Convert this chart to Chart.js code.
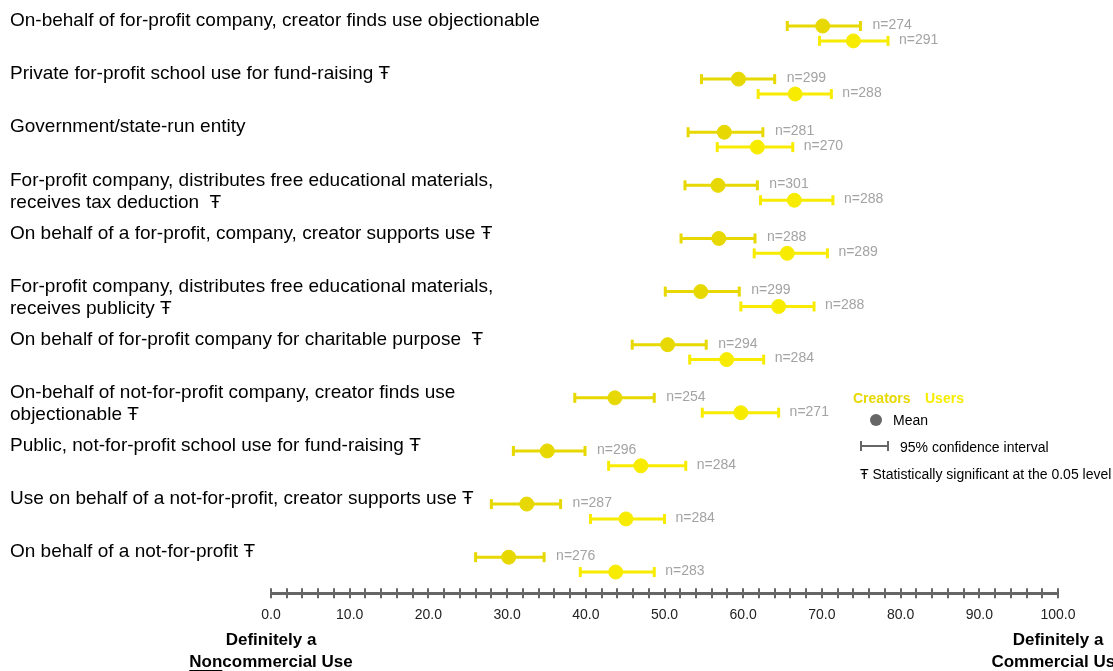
<!DOCTYPE html>
<html>
<head>
  <title>Commercial vs Noncommercial Use</title>
  <script src="https://cdn.jsdelivr.net/npm/chart.js"></script>
  <style>
    html, body { margin: 0; padding: 0; background: #fff; }
  </style>
</head>
<body>
  <canvas id="useChart" width="1113" height="671"></canvas>

  <script>
    // Scenarios, top to bottom (arrays = two lines)
    const categories = [
      'On-behalf of for-profit company, creator finds use objectionable',
      'Private for-profit school use for fund-raising \u0166',
      'Government/state-run entity',
      ['For-profit company, distributes free educational materials,', 'receives tax deduction  \u0166'],
      'On behalf of a for-profit, company, creator supports use \u0166',
      ['For-profit company, distributes free educational materials,', 'receives publicity \u0166'],
      'On behalf of for-profit company for charitable purpose  \u0166',
      ['On-behalf of not-for-profit company, creator finds use', 'objectionable \u0166'],
      'Public, not-for-profit school use for fund-raising \u0166',
      'Use on behalf of a not-for-profit, creator supports use \u0166',
      'On behalf of a not-for-profit \u0166'
    ];

    const creatorsMean = [70.1, 59.4, 57.6, 56.8, 56.9, 54.6, 50.4, 43.7, 35.1, 32.5, 30.2];
    const creatorsLow  = [65.6, 54.7, 53.0, 52.6, 52.1, 50.1, 45.9, 38.6, 30.8, 28.0, 26.0];
    const creatorsHigh = [74.9, 64.0, 62.5, 61.8, 61.5, 59.5, 55.3, 48.7, 39.9, 36.8, 34.7];
    const creatorsN    = [274, 299, 281, 301, 288, 299, 294, 254, 296, 287, 276];

    const usersMean = [74.0, 66.6, 61.8, 66.5, 65.6, 64.5, 57.9, 59.7, 47.0, 45.1, 43.8];
    const usersLow  = [69.7, 61.9, 56.7, 62.2, 61.4, 59.7, 53.2, 54.8, 42.9, 40.6, 39.3];
    const usersHigh = [78.4, 71.2, 66.3, 71.4, 70.7, 69.0, 62.6, 64.5, 52.7, 50.0, 48.7];
    const usersN    = [291, 288, 270, 288, 289, 288, 284, 271, 284, 284, 283];

    const xTickLabels = ['0.0', '10.0', '20.0', '30.0', '40.0', '50.0', '60.0', '70.0', '80.0', '90.0', '100.0'];

    const CREATORS = '#e6d800';
    const USERS = '#f7ec00';
    const USER_SHIFT = 0.28; // users row sits a little below creators row

    // CI segments: low, high, gap, ...
    function ciPoints(low, high, shift) {
      const pts = [];
      low.forEach((l, i) => {
        pts.push({ x: l, y: i + shift });
        pts.push({ x: high[i], y: i + shift });
        pts.push({ x: null, y: null });
      });
      return pts;
    }
    function meanPoints(mean, shift) {
      return mean.map((m, i) => ({ x: m, y: i + shift }));
    }

    // category labels, n labels, legend, axis ends
    const annotations = {
      id: 'annotations',
      afterDraw(chart) {
        const { ctx } = chart;
        const xs = chart.scales.x;
        const ys = chart.scales.y;
        ctx.save();

        // tick crosses on the axis line
        const axisY = chart.chartArea.bottom;
        ctx.strokeStyle = '#666';
        ctx.lineWidth = 2;
        for (let v = 0; v <= 100; v += 2) {
          const px = Math.round(xs.getPixelForValue(v));
          ctx.beginPath();
          ctx.moveTo(px, axisY - 5);
          ctx.lineTo(px, axisY + 5);
          ctx.stroke();
        }

        // category labels on the left
        ctx.fillStyle = '#000';
        ctx.font = '19px "Liberation Sans", Arial, sans-serif';
        ctx.textAlign = 'left';
        ctx.textBaseline = 'middle';
        categories.forEach((c, i) => {
          const lines = Array.isArray(c) ? c : [c];
          const y0 = ys.getPixelForValue(i) - 5;
          lines.forEach((ln, k) => ctx.fillText(ln, 10, y0 + k * 22));
        });

        // n labels
        ctx.fillStyle = '#a3a3a3';
        ctx.font = '14px "Liberation Sans", Arial, sans-serif';
        creatorsN.forEach((n, i) => {
          ctx.fillText('n=' + n, xs.getPixelForValue(creatorsHigh[i]) + 12, ys.getPixelForValue(i) - 1);
        });
        usersN.forEach((n, i) => {
          ctx.fillText('n=' + n, xs.getPixelForValue(usersHigh[i]) + 11, ys.getPixelForValue(i + USER_SHIFT) - 1);
        });

        // legend
        ctx.font = 'bold 14px "Liberation Sans", Arial, sans-serif';
        ctx.fillStyle = CREATORS;
        ctx.fillText('Creators', 853, 399);
        ctx.fillStyle = USERS;
        ctx.fillText('Users', 925, 399);

        ctx.fillStyle = '#666';
        ctx.beginPath();
        ctx.arc(876, 420, 6, 0, Math.PI * 2);
        ctx.fill();
        ctx.font = '14px "Liberation Sans", Arial, sans-serif';
        ctx.fillStyle = '#000';
        ctx.fillText('Mean', 893, 421);

        ctx.strokeStyle = '#666';
        ctx.lineWidth = 2;
        ctx.beginPath();
        ctx.moveTo(861, 446); ctx.lineTo(888, 446);
        ctx.moveTo(861, 441); ctx.lineTo(861, 451);
        ctx.moveTo(888, 441); ctx.lineTo(888, 451);
        ctx.stroke();
        ctx.fillText('95% confidence interval', 900, 448);
        ctx.fillText('\u0166 Statistically significant at the 0.05 level', 860, 475);

        // axis end captions
        ctx.font = 'bold 17px "Liberation Sans", Arial, sans-serif';
        ctx.textAlign = 'center';
        const x0 = xs.getPixelForValue(0);
        const x1 = xs.getPixelForValue(100);
        ctx.fillText('Definitely a', x0, 640);
        ctx.fillText('Noncommercial Use', x0, 662);
        ctx.fillText('Definitely a', x1, 640);
        ctx.fillText('Commercial Use', x1, 662);
        // underline "Non"
        const full = ctx.measureText('Noncommercial Use').width;
        const non = ctx.measureText('Non').width;
        ctx.fillRect(x0 - full / 2, 670, non, 1.5);

        ctx.restore();
      }
    };

    const ctx = document.getElementById('useChart').getContext('2d');
    const chart = new Chart(ctx, {
      type: 'scatter',
      data: {
        datasets: [
          {
            label: 'Creators CI',
            data: ciPoints(creatorsLow, creatorsHigh, 0),
            showLine: true,
            spanGaps: false,
            borderColor: CREATORS,
            borderWidth: 3,
            pointStyle: 'line',
            rotation: 90,
            pointRadius: 5,
            pointBorderColor: CREATORS,
            pointBorderWidth: 3
          },
          {
            label: 'Users CI',
            data: ciPoints(usersLow, usersHigh, USER_SHIFT),
            showLine: true,
            spanGaps: false,
            borderColor: USERS,
            borderWidth: 3,
            pointStyle: 'line',
            rotation: 90,
            pointRadius: 5,
            pointBorderColor: USERS,
            pointBorderWidth: 3
          },
          {
            label: 'Creators',
            data: meanPoints(creatorsMean, 0),
            pointRadius: 7,
            backgroundColor: CREATORS,
            borderColor: CREATORS
          },
          {
            label: 'Users',
            data: meanPoints(usersMean, USER_SHIFT),
            pointRadius: 7,
            backgroundColor: USERS,
            borderColor: USERS
          }
        ]
      },
      options: {
        responsive: false,
        animation: false,
        clip: false,
        layout: { padding: { left: 271, right: 55, top: 0, bottom: 33 } },
        plugins: {
          legend: { display: false },
          tooltip: { enabled: false }
        },
        scales: {
          x: {
            min: 0,
            max: 100,
            afterBuildTicks: axis => {
              axis.ticks = xTickLabels.map((t, i) => ({ value: i * 10 }));
            },
            ticks: {
              callback: (v, i) => xTickLabels[i],
              color: '#222',
              font: { size: 14, family: '"Liberation Sans", Arial, sans-serif' },
              padding: 14,
              maxRotation: 0
            },
            grid: { display: false, drawTicks: false },
            border: { display: true, color: '#666', width: 3 }
          },
          y: {
            display: false,
            reverse: true,
            min: -0.339,
            max: 10.678
          }
        }
      },
      plugins: [annotations]
    });
  </script>
</body>
</html>
